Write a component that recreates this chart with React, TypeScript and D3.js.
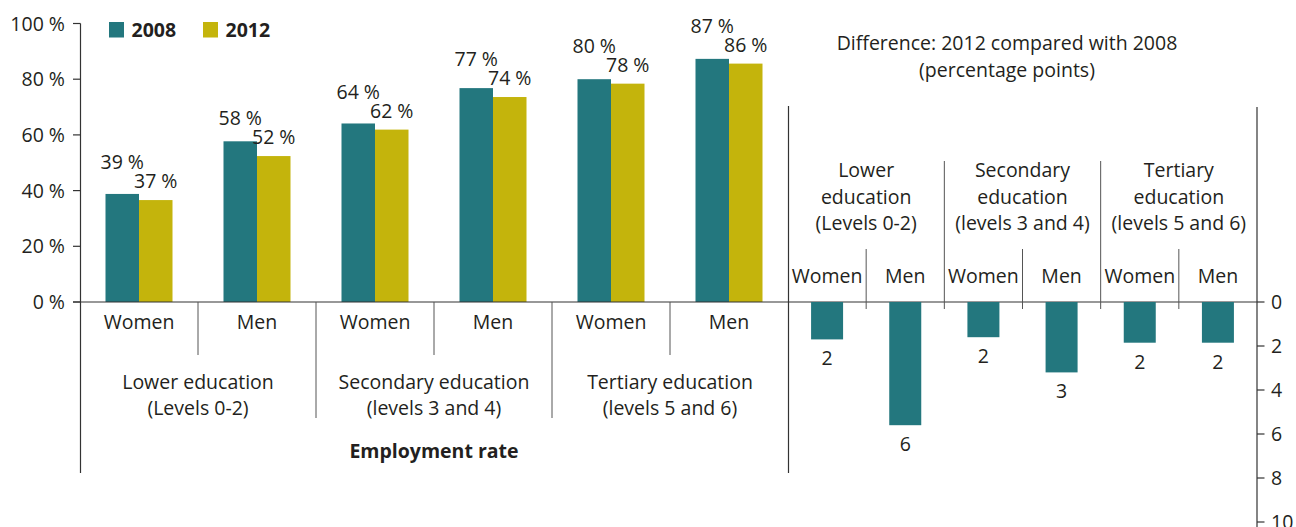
import React from "react";
import * as d3 from "d3";

const genders = ["Women", "Men"];
const educationLeft = [
  ["Lower education", "(Levels 0-2)"],
  ["Secondary education", "(levels 3 and 4)"],
  ["Tertiary education", "(levels 5 and 6)"],
];
const educationRight = [
  ["Lower", "education", "(Levels 0-2)"],
  ["Secondary", "education", "(levels 3 and 4)"],
  ["Tertiary", "education", "(levels 5 and 6)"],
];
const years = ["2008", "2012"];
const values2008 = [38.8, 57.7, 64.1, 76.8, 80.0, 87.3];
const values2012 = [36.6, 52.4, 61.9, 73.6, 78.4, 85.6];
const differences = [1.7, 5.6, 1.6, 3.2, 1.85, 1.85];
const leftTicks = [0, 20, 40, 60, 80, 100];
const rightTicks = [0, 2, 4, 6, 8, 10];
const leftTitle = "Employment rate";
const rightTitle = ["Difference: 2012 compared with 2008", "(percentage points)"];

const TEAL = "#23777e";
const YELLOW = "#c4b40c";
const TEXT = "#231f20";
const AXIS = "#333";
const SEP = "#555";
const FONT = "'Open Sans', sans-serif";
const FS = 19.5;

export default function App() {
  const categories = d3.range(6).map((i) => `${i}`);
  const xL = d3.scaleBand<string>().domain(categories).range([80, 788]);
  const yL = d3.scaleLinear().domain([0, 100]).range([302, 23.5]);
  const pairW = 67;
  const xInner = d3.scaleBand<string>().domain(years).range([0, pairW]);
  const xR = d3.scaleBand<string>().domain(categories).range([788, 1257]).paddingInner(0.6).paddingOuter(0.3);
  const xRb = d3.scaleBand<string>().domain(categories).range([788, 1257]);
  const yR = d3.scaleLinear().domain([0, 10]).range([302, 522]);
  const series = [values2008, values2012];
  const colors = [TEAL, YELLOW];
  const bw = xL.bandwidth();
  const rbw = xRb.bandwidth();

  return (
    <svg
      width={1296}
      height={527}
      style={{ position: "absolute", left: 0, top: 0, background: "#fff" }}
      fontFamily={FONT}
      fontSize={FS}
      fill={TEXT}
    >
      {/* Legend */}
      {years.map((yr, i) => (
        <g key={yr} transform={`translate(${109 + i * 94},22)`}>
          <rect width={15} height={15.5} fill={colors[i]} />
          <text x={22.5} y={14.7} fontWeight="bold" fill={TEXT}>
            {yr}
          </text>
        </g>
      ))}

      {/* Left bars */}
      {categories.map((c, i) => {
        const x0 = (xL(c) as number) + (bw - pairW) / 2;
        return (
          <g key={c}>
            {years.map((yr, s) => (
              <rect
                key={yr}
                x={x0 + (xInner(yr) as number)}
                y={yL(series[s][i])}
                width={xInner.bandwidth()}
                height={yL(0) - yL(series[s][i])}
                fill={colors[s]}
              />
            ))}
            <text
              x={x0 + (xInner("2008") as number) + xInner.bandwidth() / 2}
              y={yL(values2012[i]) - 38 + 7}
              textAnchor="middle"
            >
              {`${Math.round(values2008[i])} %`}
            </text>
            <text
              x={x0 + (xInner("2012") as number) + xInner.bandwidth() / 2}
              y={yL(values2012[i]) - 19 + 7}
              textAnchor="middle"
            >
              {`${Math.round(values2012[i])} %`}
            </text>
            <text x={(xL(c) as number) + bw / 2} y={329} textAnchor="middle">
              {genders[i % 2]}
            </text>
          </g>
        );
      })}

      {/* Left axis */}
      <line x1={80.5} x2={80.5} y1={yL(100)} y2={473} stroke={AXIS} strokeWidth={1.2} />
      {leftTicks.map((t) => (
        <g key={t}>
          <line x1={73} x2={80.5} y1={yL(t)} y2={yL(t)} stroke={AXIS} strokeWidth={1.2} />
          <text x={65} y={yL(t) + 7} textAnchor="end">{`${t} %`}</text>
        </g>
      ))}
      {/* Baseline */}
      <line x1={73} x2={1257} y1={302} y2={302} stroke={AXIS} strokeWidth={1.2} />

      {/* Left separators */}
      {educationLeft.map((lines, g) => {
        const gx = xL(categories[g * 2]) as number;
        const mid = xL(categories[g * 2 + 1]) as number;
        return (
          <g key={g}>
            <line x1={mid} x2={mid} y1={302} y2={355} stroke={SEP} strokeWidth={1} />
            {g > 0 && <line x1={gx} x2={gx} y1={302} y2={418} stroke={SEP} strokeWidth={1} />}
            {lines.map((ln, k) => (
              <text key={k} x={mid} y={389 + k * 26} textAnchor="middle">
                {ln}
              </text>
            ))}
          </g>
        );
      })}
      <text x={(80 + 788) / 2} y={458} textAnchor="middle" fontWeight="bold">
        {leftTitle}
      </text>

      {/* Divider between charts */}
      <line x1={788.5} x2={788.5} y1={106} y2={473} stroke={AXIS} strokeWidth={1.2} />

      {/* Right title */}
      {rightTitle.map((ln, k) => (
        <text key={k} x={1007} y={50 + k * 26.5} textAnchor="middle">
          {ln}
        </text>
      ))}

      {/* Right separators and labels */}
      {educationRight.map((lines, g) => {
        const gx = xRb(categories[g * 2]) as number;
        const mid = xRb(categories[g * 2 + 1]) as number;
        return (
          <g key={g}>
            <line x1={mid} x2={mid} y1={249} y2={309} stroke={SEP} strokeWidth={1} />
            {g > 0 && <line x1={gx} x2={gx} y1={161} y2={309} stroke={SEP} strokeWidth={1} />}
            {lines.map((ln, k) => (
              <text key={k} x={mid} y={177.3 + k * 26.2} textAnchor="middle">
                {ln}
              </text>
            ))}
          </g>
        );
      })}
      {categories.map((c, i) => (
        <g key={c}>
          <text x={(xRb(c) as number) + rbw / 2} y={283.3} textAnchor="middle">
            {genders[i % 2]}
          </text>
          <rect
            x={(xRb(c) as number) + rbw / 2 - 16}
            y={yR(0)}
            width={32}
            height={yR(differences[i]) - yR(0)}
            fill={TEAL}
          />
          <text x={(xRb(c) as number) + rbw / 2} y={yR(differences[i]) + 19 + 7} textAnchor="middle">
            {Math.round(differences[i])}
          </text>
        </g>
      ))}

      {/* Right axis */}
      <line x1={1257} x2={1257} y1={107} y2={527} stroke={AXIS} strokeWidth={1.2} />
      {rightTicks.map((t) => (
        <g key={t}>
          <line x1={1257} x2={1264.5} y1={yR(t)} y2={yR(t)} stroke={AXIS} strokeWidth={1.2} />
          <text x={1271} y={yR(t) + 7} textAnchor="start">
            {t}
          </text>
        </g>
      ))}
    </svg>
  );
}
